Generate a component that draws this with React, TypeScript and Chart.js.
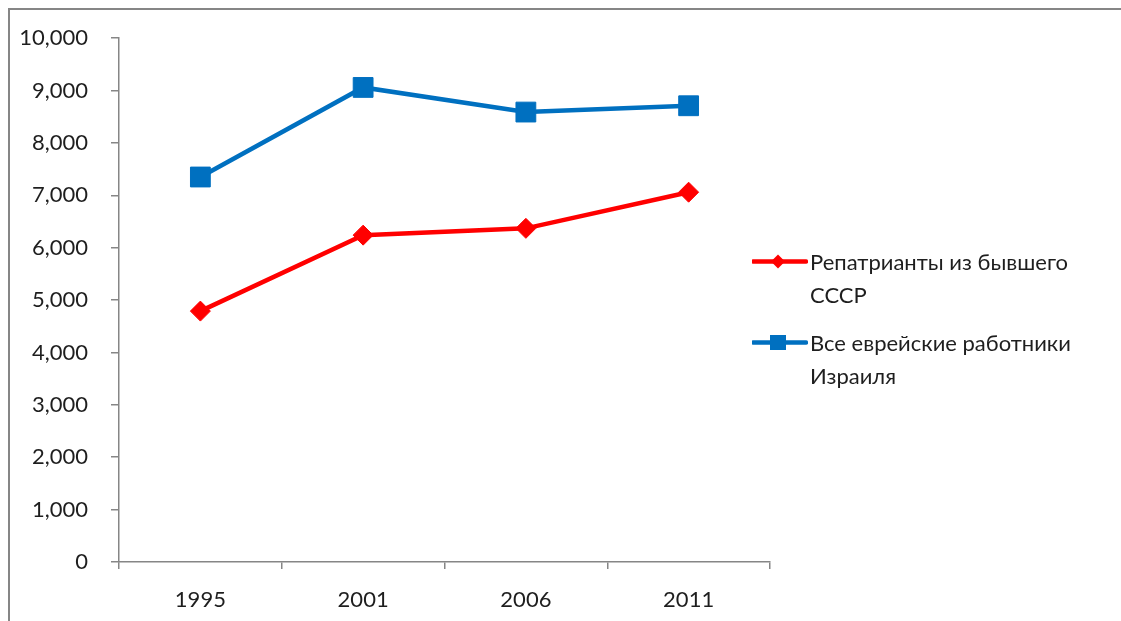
import React, { useEffect, useRef } from "react";
import { Chart, registerables } from "chart.js";

Chart.register(...registerables);

const categories = ["1995", "2001", "2006", "2011"];
const repatriants = [4790, 6240, 6370, 7060];
const allJewish = [7350, 9060, 8590, 8710];
const seriesNames = ["Репатрианты из бывшего СССР", "Все еврейские работники Израиля"];
const legendLines = [["Репатрианты из бывшего", "СССР"], ["Все еврейские работники", "Израиля"]];
const yTicksMax = 10000;
const yStep = 1000;

const FONT = "Lato, 'Noto Sans', sans-serif";
const RED = "#FF0000";
const BLUE = "#0070C0";
const AXIS = "#868686";
const TEXT = "#1e1e1e";

export default function App() {
  const ref = useRef<HTMLCanvasElement | null>(null);

  useEffect(() => {
    if (!ref.current) return;
    const chart = new Chart(ref.current, {
      type: "line",
      data: {
        labels: categories,
        datasets: [
          {
            label: seriesNames[0],
            data: repatriants,
            borderColor: RED,
            backgroundColor: RED,
            borderWidth: 4.5,
            pointStyle: "rectRot",
            pointRadius: 10,
            pointBorderWidth: 1,
            tension: 0,
          },
          {
            label: seriesNames[1],
            data: allJewish,
            borderColor: BLUE,
            backgroundColor: BLUE,
            borderWidth: 4.5,
            pointStyle: "rect",
            pointRadius: 14,
            pointBorderWidth: 1,
            tension: 0,
          },
        ],
      },
      options: {
        responsive: false,
        animation: false,
        layout: { autoPadding: false, padding: { left: 0, right: 351, top: 28, bottom: 0 } },
        plugins: { legend: { display: false }, tooltip: { enabled: false } },
        scales: {
          x: {
            offset: true,
            grid: { offset: true, drawOnChartArea: false, tickLength: 7, color: AXIS, lineWidth: 1.5 },
            border: { color: AXIS, width: 1.5 },
            ticks: { color: TEXT, font: { family: FONT, size: 22 }, padding: 18, maxRotation: 0 },
            afterFit: (s: any) => { s.height = 59; },
          },
          y: {
            min: 0,
            max: yTicksMax,
            grid: { drawOnChartArea: false, tickLength: 8, color: AXIS, lineWidth: 1.5 },
            border: { color: AXIS, width: 1.5 },
            ticks: {
              stepSize: yStep,
              color: TEXT,
              font: { family: FONT, size: 22 },
              padding: 23,
              callback: (v: any) => Number(v).toLocaleString("en-US"),
            },
            afterFit: (s: any) => { s.width = 109; },
          },
        },
      },
    });
    return () => chart.destroy();
  }, []);

  const legendItem = (idx: number, top: number) => {
    const color = idx === 0 ? RED : BLUE;
    return (
      <div key={idx} style={{ position: "absolute", left: 742, top, height: 66 }}>
        <svg width={56} height={33} style={{ position: "absolute", left: 0, top: 0 }}>
          <line x1={1} y1={16.5} x2={54} y2={16.5} stroke={color} strokeWidth={4.5} strokeLinecap="round" />
          {idx === 0 ? (
            <polygon points="26,9.5 33,16.5 26,23.5 19,16.5" fill={color} />
          ) : (
            <rect x={18} y={9} width={16} height={15} fill={color} />
          )}
        </svg>
        <div
          style={{
            position: "absolute",
            left: 58,
            top: 0,
            font: `22px ${FONT}`,
            lineHeight: "33px",
            color: TEXT,
            whiteSpace: "nowrap",
          }}
        >
          {legendLines[idx].map((l, i) => (
            <div key={i}>{l}</div>
          ))}
        </div>
      </div>
    );
  };

  return (
    <div
      style={{
        position: "fixed",
        top: 8,
        left: 8,
        right: 0,
        bottom: 0,
        borderTop: `2px solid ${AXIS}`,
        borderLeft: `2px solid ${AXIS}`,
        background: "#fff",
        overflow: "hidden",
      }}
    >
      <canvas
        ref={ref}
        width={1111}
        height={619}
        style={{ position: "absolute", left: 0, top: -8, width: 1111, height: 619 }}
      />
      {legendItem(0, 234.5)}
      {legendItem(1, 315.5)}
    </div>
  );
}
